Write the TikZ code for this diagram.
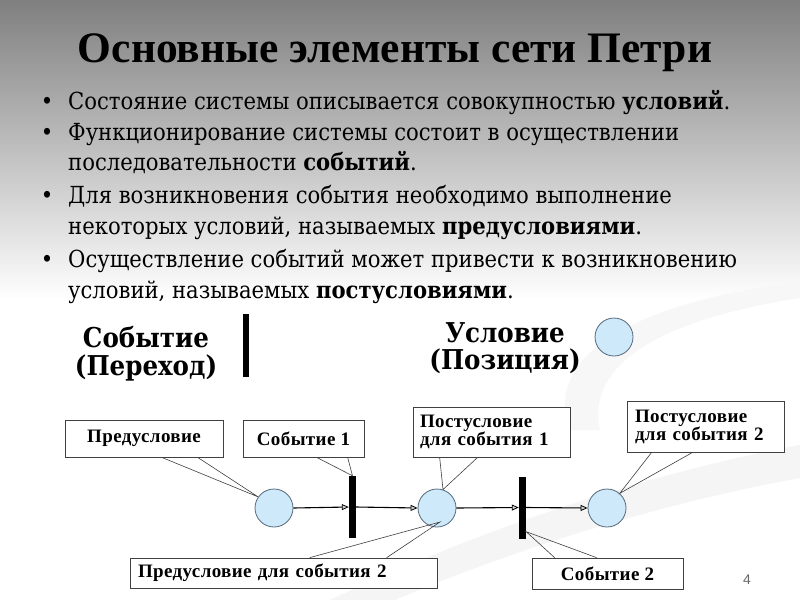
\documentclass[tikz,border=0pt]{standalone}
\usepackage{fontspec}
\setmainfont{Liberation Serif}
\newfontfamily\serfam{Liberation Serif}
\newfontfamily\bulfam{DejaVu Serif Condensed}
\newfontfamily\boxfam{Liberation Serif}[LetterSpace=2]
\newfontfamily\pnfam{Liberation Sans}
\usetikzlibrary{arrows.meta,calc}
\definecolor{placefill}{RGB}{206,233,250}
\definecolor{placeline}{RGB}{85,105,125}
\newcommand\titlefnt{\serfam\fontsize{43.5}{43.5}\selectfont\bfseries}
\newcommand\bulfnt{\bulfam\fontsize{23.5}{23.5}\selectfont}
\newcommand\legfnt{\bulfam\fontsize{27.3}{27.3}\selectfont\bfseries}
\newcommand\boxfnt{\boxfam\fontsize{19}{18}\selectfont\bfseries}
\begin{document}
\begin{tikzpicture}[x=1pt,y=-1pt,
  bul/.style={anchor=base west, inner sep=0pt, font=\bulfnt},
  bdot/.style={anchor=base, inner sep=0pt, font=\bulfnt},
  leg/.style={anchor=base, inner sep=0pt, font=\legfnt},
  cbox/.style={draw=black!75, fill=white, line width=0.7pt, font=\boxfnt, inner ysep=0pt},
  place/.style={circle, draw=placeline, fill=placefill, line width=0.8pt, minimum size=38pt, inner sep=0pt},
  tbar/.style={fill=black, draw=none, inner sep=0pt, minimum width=7pt, minimum height=62pt},
  arc/.style={line width=1.1pt, -{Triangle[length=7pt,width=6pt,fill=gray!35,line width=0.8pt]}},
  ptr/.style={draw=black!75, line width=0.6pt, line join=miter}
]
\useasboundingbox (0,0) rectangle (800,600);
% background
\fill[white] (0,0) rectangle (800,600);
\shade[top color=black!50, bottom color=white] (0,0) rectangle (800,300);
\fill[black!4] (330,600) .. controls (480,530) and (640,475) .. (800,445) -- (800,478) .. controls (650,505) and (500,555) .. (395,600) -- cycle;
\fill[black!3] (570,430) .. controls (540,350) and (650,300) .. (800,282) -- (800,298) .. controls (670,318) and (585,360) .. (600,430) -- cycle;

% title
\node[anchor=base, inner sep=0pt, font=\titlefnt] (title) at (395,62) {Основные элементы сети Петри};

% bullets
\node[bdot] (d1) at (47,109) {•};
\node[bul] (l1) at (68,109) {Состояние системы описывается совокупностью \textbf{условий}.};
\node[bdot] (d2) at (47,140) {•};
\node[bul] (l2) at (68,140) {Функционирование системы состоит в осуществлении};
\node[bul] (l3) at (68,170) {последовательности \textbf{событий}.};
\node[bdot] (d3) at (47,203) {•};
\node[bul] (l4) at (68,203) {Для возникновения события необходимо выполнение};
\node[bul] (l5) at (68,234) {некоторых условий, называемых \textbf{предусловиями}.};
\node[bdot] (d4) at (47,267) {•};
\node[bul] (l6) at (68,267) {Осуществление событий может привести к возникновению};
\node[bul] (l7) at (68,298) {условий, называемых \textbf{постусловиями}.};

% legend
\node[leg] (ev) at (146,347) {Событие};
\node[leg] (evb) at (146,375) {(Переход)};
\node[tbar, minimum width=6pt, minimum height=63pt] (lbar) at (246,345.5) {};
\node[leg] (co) at (505,342) {Условие};
\node[leg] (cob) at (505,369) {(Позиция)};
\node[place] (lc) at (614,337) {};

% callout boxes
\node[cbox, minimum width=158pt, minimum height=37pt] (pre) at (144,438.5) {Предусловие};
\node[cbox, minimum width=121pt, minimum height=37pt] (ev1) at (303.5,438.5) {Событие 1};
\node[cbox, inner xsep=7pt, text width=143pt, align=left, minimum height=50pt] (post1) at (491.5,432) {Постусловие\\для события 1};
\node[cbox, inner xsep=8pt, text width=141pt, align=left, minimum height=51pt] (post2) at (705.5,426.5) {Постусловие\\для события 2};
\node[cbox, inner xsep=8pt, text width=291pt, align=left, minimum height=30pt] (pre2) at (283.5,573) {Предусловие для события 2};
\node[cbox, minimum width=151pt, minimum height=31pt] (ev2) at (607.5,573.5) {Событие 2};

% net
\node[place] (c1) at (274,508) {};
\node[tbar] (b1) at (352.5,507) {};
\node[place] (c2) at (437,508) {};
\node[tbar] (b2) at (522.5,507.5) {};
\node[place] (c3) at (607,508) {};

\draw[arc] (c1.east) -- (b1.west);
\draw[arc] (b1.east) -- (c2.west);
\draw[arc] (c2.east) -- (b2.west);
\draw[arc] (b2.east) -- (c3.west);

% callout pointers
\coordinate (tpre2) at ($(c2.center)+(3,14)$);
\coordinate (tev2) at ($(b2.south east)+(0,-7)$);
\draw[ptr] ($(pre.south west)+(97,0)$) -- (c1.145) -- ($(pre.south west)+(133,0)$);
\draw[ptr] ($(ev1.south west)+(74,0)$) -- (b1.north) -- ($(ev1.south west)+(105,0)$);
\draw[ptr] ($(post1.south west)+(27,0)$) -- (c2.72) -- ($(post1.south west)+(65,0)$);
\draw[ptr] ($(post2.south west)+(25,0)$) -- (c3.49) -- ($(post2.south west)+(66,0)$);
\draw[ptr] ($(pre2.north west)+(180,0)$) -- (tpre2) -- ($(pre2.north west)+(257,0)$);
\draw[ptr] ($(ev2.north west)+(23,0)$) -- (tev2) -- ($(ev2.north west)+(65,0)$);

% page number
\node[anchor=base, inner sep=0pt, font=\pnfam\fontsize{14}{14}\selectfont, text=black!60] (pn) at (747,584) {4};
\end{tikzpicture}
\end{document}
